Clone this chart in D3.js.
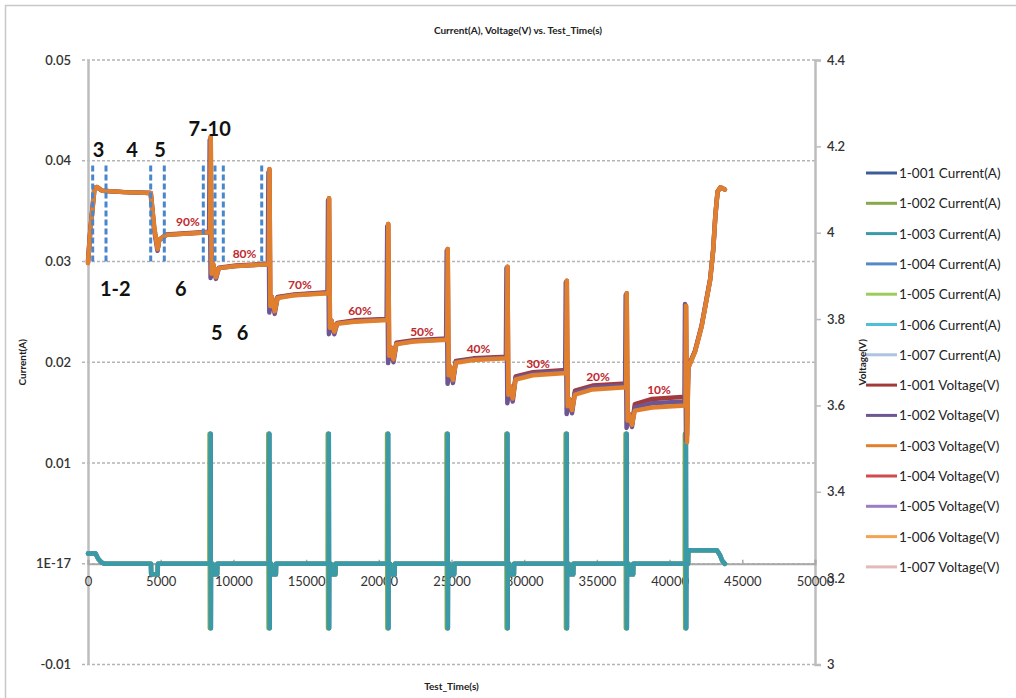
<!DOCTYPE html>
<html>
<head>
<meta charset="utf-8">
<script src="https://cdn.jsdelivr.net/npm/d3@7"></script>
<style>
  body { margin: 0; background: #fff; }
  text { font-family: Lato, "Liberation Sans", sans-serif; }
</style>
</head>
<body>
<div id="chart"></div>
<script>
// ---- data ----
const seriesNames = [
  '1-001 Current(A)', '1-002 Current(A)', '1-003 Current(A)', '1-004 Current(A)',
  '1-005 Current(A)', '1-006 Current(A)', '1-007 Current(A)',
  '1-001 Voltage(V)', '1-002 Voltage(V)', '1-003 Voltage(V)', '1-004 Voltage(V)',
  '1-005 Voltage(V)', '1-006 Voltage(V)', '1-007 Voltage(V)'
];
const seriesColors = [
  '#3b5e9b', '#86a94a', '#3a9aa8', '#5588c8', '#9dcb5c', '#4dbfd6', '#adc3e0',
  '#a33a3a', '#6e5594', '#e0802e', '#d24b4b', '#9b7dc4', '#f6a350', '#e3b9b9'
];

const xTicks = [0, 5000, 10000, 15000, 20000, 25000, 30000, 35000, 40000, 45000, 50000];
const currentTicks = [-0.01, 0, 0.01, 0.02, 0.03, 0.04, 0.05];
const currentTickLabels = ['-0.01', '1E-17', '0.01', '0.02', '0.03', '0.04', '0.05'];
const voltageTicks = [3, 3.2, 3.4, 3.6, 3.8, 4, 4.2, 4.4];
const voltageTickLabels = ['3', '3.2', '3.4', '3.6', '3.8', '4', '4.2', '4.4'];

// [Test_Time(s), Current(A)]
const current001 = [
  [0, 0.00102], [520, 0.00102], [700, 0.0005], [950, 0.0001], [1150, 0],
  [4330, 0], [4345, -0.00105], [4790, -0.00105], [4805, 0],
  [8420, 0], [8430, 0.0129], [8450, -0.0064], [8460, 0], [8560, 0], [8575, -0.00105], [8880, -0.00105], [8895, 0],
  [12460, 0], [12470, 0.0129], [12490, -0.0064], [12500, 0], [12600, 0], [12615, -0.00105], [12920, -0.00105], [12935, 0],
  [16550, 0], [16560, 0.0129], [16580, -0.0064], [16590, 0], [16690, 0], [16705, -0.00105], [17010, -0.00105], [17025, 0],
  [20630, 0], [20640, 0.0129], [20660, -0.0064], [20670, 0], [20770, 0], [20785, -0.00105], [21090, -0.00105], [21105, 0],
  [24720, 0], [24730, 0.0129], [24750, -0.0064], [24760, 0], [24860, 0], [24875, -0.00105], [25180, -0.00105], [25195, 0],
  [28830, 0], [28840, 0.0129], [28860, -0.0064], [28870, 0], [28970, 0], [28985, -0.00105], [29290, -0.00105], [29305, 0],
  [32910, 0], [32920, 0.0129], [32940, -0.0064], [32950, 0], [33050, 0], [33065, -0.00105], [33370, -0.00105], [33385, 0],
  [37030, 0], [37040, 0.0129], [37060, -0.0064], [37070, 0], [37170, 0], [37185, -0.00105], [37490, -0.00105], [37505, 0],
  [41110, 0], [41120, 0.0129], [41140, -0.0064], [41150, 0], [41270, 0], [41285, 0.00134], [43250, 0.00134],
  [43450, 0.0009], [43620, 0.0003], [43800, 0]
];
const current002 = [
  [0, 0.00102], [520, 0.00102], [700, 0.0005], [950, 0.0001], [1150, 0],
  [4330, 0], [4345, -0.00105], [4790, -0.00105], [4805, 0],
  [8350, 0], [8360, 0.0129], [8380, -0.0064], [8390, 0], [8560, 0], [8575, -0.00105], [8880, -0.00105], [8895, 0],
  [12390, 0], [12400, 0.0129], [12420, -0.0064], [12430, 0], [12600, 0], [12615, -0.00105], [12920, -0.00105], [12935, 0],
  [16480, 0], [16490, 0.0129], [16510, -0.0064], [16520, 0], [16690, 0], [16705, -0.00105], [17010, -0.00105], [17025, 0],
  [20560, 0], [20570, 0.0129], [20590, -0.0064], [20600, 0], [20770, 0], [20785, -0.00105], [21090, -0.00105], [21105, 0],
  [24650, 0], [24660, 0.0129], [24680, -0.0064], [24690, 0], [24860, 0], [24875, -0.00105], [25180, -0.00105], [25195, 0],
  [28760, 0], [28770, 0.0129], [28790, -0.0064], [28800, 0], [28970, 0], [28985, -0.00105], [29290, -0.00105], [29305, 0],
  [32840, 0], [32850, 0.0129], [32870, -0.0064], [32880, 0], [33050, 0], [33065, -0.00105], [33370, -0.00105], [33385, 0],
  [36960, 0], [36970, 0.0129], [36990, -0.0064], [37000, 0], [37170, 0], [37185, -0.00105], [37490, -0.00105], [37505, 0],
  [41040, 0], [41050, 0.0129], [41070, -0.0064], [41080, 0], [41270, 0], [41285, 0.00134], [43250, 0.00134],
  [43450, 0.0009], [43620, 0.0003], [43800, 0]
];
const current003 = [
  [0, 0.00102], [520, 0.00102], [700, 0.0005], [950, 0.0001], [1150, 0],
  [4330, 0], [4345, -0.00105], [4790, -0.00105], [4805, 0],
  [8420, 0], [8430, 0.0129], [8450, -0.0064], [8460, 0], [8560, 0], [8575, -0.00105], [8880, -0.00105], [8895, 0],
  [12460, 0], [12470, 0.0129], [12490, -0.0064], [12500, 0], [12600, 0], [12615, -0.00105], [12920, -0.00105], [12935, 0],
  [16550, 0], [16560, 0.0129], [16580, -0.0064], [16590, 0], [16690, 0], [16705, -0.00105], [17010, -0.00105], [17025, 0],
  [20630, 0], [20640, 0.0129], [20660, -0.0064], [20670, 0], [20770, 0], [20785, -0.00105], [21090, -0.00105], [21105, 0],
  [24720, 0], [24730, 0.0129], [24750, -0.0064], [24760, 0], [24860, 0], [24875, -0.00105], [25180, -0.00105], [25195, 0],
  [28830, 0], [28840, 0.0129], [28860, -0.0064], [28870, 0], [28970, 0], [28985, -0.00105], [29290, -0.00105], [29305, 0],
  [32910, 0], [32920, 0.0129], [32940, -0.0064], [32950, 0], [33050, 0], [33065, -0.00105], [33370, -0.00105], [33385, 0],
  [37030, 0], [37040, 0.0129], [37060, -0.0064], [37070, 0], [37170, 0], [37185, -0.00105], [37490, -0.00105], [37505, 0],
  [41110, 0], [41120, 0.0129], [41140, -0.0064], [41150, 0], [41270, 0], [41285, 0.00134], [43250, 0.00134],
  [43450, 0.0009], [43620, 0.0003], [43800, 0]
];

// [Test_Time(s), Voltage(V)]
const voltage001 = [
  [0, 3.930], [150, 4.000], [450, 4.103], [600, 4.106], [1000, 4.097], [2500, 4.094], [4320, 4.092],
  [4560, 4.010], [4790, 3.962], [4900, 3.984], [5400, 3.996], [8400, 4.002],
  [8440, 4.222], [8500, 3.905], [8600, 3.928], [8800, 3.897], [9000, 3.919], [10200, 3.924], [12440, 3.928],
  [12480, 4.147], [12540, 3.830], [12640, 3.852], [12840, 3.818], [13040, 3.851], [14200, 3.857], [16540, 3.862],
  [16580, 4.080], [16640, 3.780], [16740, 3.797], [16940, 3.771], [17140, 3.791], [18300, 3.797], [20610, 3.800],
  [20650, 4.020], [20710, 3.715], [20810, 3.735], [21010, 3.707], [21210, 3.745], [22400, 3.751], [24700, 3.755],
  [24740, 3.962], [24800, 3.670], [24900, 3.690], [25100, 3.659], [25300, 3.703], [26500, 3.709], [28810, 3.713],
  [28850, 3.921], [28910, 3.625], [29010, 3.645], [29210, 3.616], [29410, 3.667], [30600, 3.677], [32890, 3.682],
  [32930, 3.889], [32990, 3.598], [33090, 3.615], [33290, 3.589], [33490, 3.634], [34700, 3.646], [37010, 3.651],
  [37050, 3.860], [37110, 3.565], [37210, 3.580], [37410, 3.555], [37610, 3.603], [38800, 3.615], [41090, 3.620],
  [41130, 3.831], [41200, 3.530], [41290, 3.690], [41750, 3.727], [42200, 3.785], [42790, 3.893], [43000, 3.962],
  [43150, 4.042], [43300, 4.096], [43500, 4.105], [43800, 4.100]
];
const voltage002 = [
  [0, 3.935], [150, 4.003], [430, 4.103], [600, 4.105], [1000, 4.097], [2500, 4.094], [4300, 4.092],
  [4540, 4.008], [4780, 3.958], [4890, 3.982], [5400, 3.995], [8330, 4.001],
  [8370, 4.215], [8430, 3.895], [8600, 3.925], [8800, 3.893], [9000, 3.918], [10200, 3.923], [12370, 3.927],
  [12410, 4.140], [12470, 3.815], [12640, 3.850], [12840, 3.812], [13040, 3.850], [14200, 3.856], [16470, 3.861],
  [16510, 4.075], [16570, 3.765], [16740, 3.795], [16940, 3.765], [17140, 3.790], [18300, 3.795], [20540, 3.799],
  [20580, 4.015], [20640, 3.698], [20810, 3.733], [21010, 3.700], [21210, 3.743], [22400, 3.749], [24630, 3.753],
  [24670, 3.958], [24730, 3.650], [24900, 3.688], [25100, 3.652], [25300, 3.701], [26500, 3.707], [28740, 3.711],
  [28780, 3.918], [28840, 3.605], [29010, 3.643], [29210, 3.609], [29410, 3.664], [30600, 3.674], [32820, 3.679],
  [32860, 3.885], [32920, 3.580], [33090, 3.612], [33290, 3.582], [33490, 3.630], [34700, 3.642], [36940, 3.647],
  [36980, 3.856], [37040, 3.548], [37210, 3.577], [37410, 3.550], [37610, 3.596], [38800, 3.605], [41020, 3.609],
  [41060, 3.835], [41130, 3.520], [41290, 3.688], [41750, 3.725], [42200, 3.783], [42790, 3.891], [43000, 3.960],
  [43150, 4.040], [43300, 4.095], [43500, 4.105], [43800, 4.100]
];
const voltage003 = [
  [0, 3.930], [150, 4.000], [450, 4.103], [600, 4.106], [1000, 4.097], [2500, 4.094], [4320, 4.092],
  [4560, 4.010], [4790, 3.962], [4900, 3.984], [5400, 3.995], [8400, 4.001],
  [8440, 4.222], [8500, 3.905], [8600, 3.928], [8800, 3.897], [9000, 3.918], [10200, 3.923], [12440, 3.927],
  [12480, 4.147], [12540, 3.830], [12640, 3.852], [12840, 3.818], [13040, 3.849], [14200, 3.855], [16540, 3.860],
  [16580, 4.080], [16640, 3.780], [16740, 3.797], [16940, 3.771], [17140, 3.789], [18300, 3.794], [20610, 3.798],
  [20650, 4.020], [20710, 3.715], [20810, 3.735], [21010, 3.707], [21210, 3.742], [22400, 3.748], [24700, 3.752],
  [24740, 3.962], [24800, 3.670], [24900, 3.690], [25100, 3.659], [25300, 3.699], [26500, 3.705], [28810, 3.709],
  [28850, 3.921], [28910, 3.625], [29010, 3.645], [29210, 3.616], [29410, 3.660], [30600, 3.670], [32890, 3.675],
  [32930, 3.889], [32990, 3.598], [33090, 3.615], [33290, 3.589], [33490, 3.625], [34700, 3.637], [37010, 3.642],
  [37050, 3.860], [37110, 3.565], [37210, 3.580], [37410, 3.555], [37610, 3.588], [38800, 3.595], [41090, 3.600],
  [41130, 3.831], [41200, 3.515], [41290, 3.687], [41750, 3.724], [42200, 3.782], [42790, 3.890], [43000, 3.960],
  [43150, 4.040], [43300, 4.095], [43500, 4.105], [43800, 4.100]
];

// series index -> data (1-004 .. 1-007 carry no points in the picture)
const seriesData = [
  current001, current002, current003, [], [], [], [],
  voltage001, voltage002, voltage003, [], [], [], []
];

// step markers drawn by hand on the chart (time in s, current span in A)
const markerTimes = [323, 1238, 4312, 5248, 7930, 8735, 9306, 11947];
const markerSpan = [0.030, 0.0396];
const stepLabels = ['3', '4', '5', '7-10', '1-2', '6', '5', '6'];
const stepLabelTimes = [722, 3026, 4952, 8370, 1880, 6383, 8852, 10626];
const stepLabelCurrents = [0.0412, 0.0412, 0.0412, 0.0433, 0.0274, 0.0274, 0.0230, 0.0230];
const socLabels = ['90%', '80%', '70%', '60%', '50%', '40%', '30%', '20%', '10%'];
const socTimes = [6878, 10764, 14581, 18708, 22973, 26859, 30951, 35078, 39273];
const socVoltages = [4.025, 3.953, 3.879, 3.821, 3.771, 3.732, 3.698, 3.667, 3.638];

// ---- layout ----
const WIDTH = 1016;
const HEIGHT = 698;
const PLOT = {LEFT: 88, RIGHT: 815, TOP: 60, BOTTOM: 664.5};

const svg = d3.select('#chart')
  .append('svg')
    .attr('width', WIDTH)
    .attr('height', HEIGHT);

svg.append('rect')
  .attr('width', WIDTH).attr('height', HEIGHT)
  .attr('fill', '#fff');

// outer chart frame
svg.append('rect')
  .attr('x', 5.5).attr('y', 5.5)
  .attr('width', 1100).attr('height', 1000)
  .attr('fill', 'none')
  .attr('stroke', '#c8c8c8')
  .attr('stroke-width', 1.5);

const x = d3.scaleLinear().domain([0, 50000]).range([PLOT.LEFT, PLOT.RIGHT]);
const yI = d3.scaleLinear().domain([-0.01, 0.05]).range([PLOT.BOTTOM, PLOT.TOP]);
const yV = d3.scaleLinear().domain([3, 4.4]).range([PLOT.BOTTOM, PLOT.TOP]);

// gridlines (left axis)
svg.append('g')
  .selectAll('line')
  .data(currentTicks)
  .enter().append('line')
    .attr('x1', PLOT.LEFT - 6)
    .attr('x2', PLOT.RIGHT)
    .attr('y1', d => yI(d))
    .attr('y2', d => yI(d))
    .attr('stroke', '#b4b4b4')
    .attr('stroke-width', 1.4)
    .attr('stroke-dasharray', '3,2');

// left axis
const leftAxis = svg.append('g')
  .attr('transform', `translate(${PLOT.LEFT},0)`)
  .call(d3.axisLeft(yI)
    .tickValues(currentTicks)
    .tickFormat((d, i) => currentTickLabels[i])
    .tickSize(0)
    .tickPadding(17));
leftAxis.select('.domain').attr('stroke', '#bdbdbd').attr('stroke-width', 2.5);
leftAxis.selectAll('text')
  .attr('font-size', 13).attr('font-weight', 600).attr('fill', '#333');

// right axis
const rightAxis = svg.append('g')
  .attr('transform', `translate(${PLOT.RIGHT},0)`)
  .call(d3.axisRight(yV)
    .tickValues(voltageTicks)
    .tickFormat((d, i) => voltageTickLabels[i])
    .tickSize(6)
    .tickPadding(6));
rightAxis.select('.domain').attr('stroke', '#bdbdbd').attr('stroke-width', 2.5);
rightAxis.selectAll('line').attr('stroke', '#bdbdbd').attr('stroke-width', 1.5);
rightAxis.selectAll('text')
  .attr('font-size', 13).attr('font-weight', 600).attr('fill', '#333');

// x axis at current = 0
const xAxis = svg.append('g')
  .attr('transform', `translate(0,${yI(0)})`)
  .call(d3.axisBottom(x)
    .tickValues(xTicks)
    .tickFormat(d3.format('d'))
    .tickSize(-4)
    .tickPadding(13));
xAxis.select('.domain').attr('stroke', '#a9a9a9').attr('stroke-width', 2);
xAxis.selectAll('line').attr('stroke', '#a9a9a9').attr('stroke-width', 1.5);
xAxis.selectAll('text')
  .attr('font-size', 13).attr('fill', '#333');

// series lines: current on the left scale, voltage on the right scale
const currentLine = d3.line().x(d => x(d[0])).y(d => yI(d[1]));
const voltageLine = d3.line().x(d => x(d[0])).y(d => yV(d[1]));

svg.append('g')
  .selectAll('path')
  .data(seriesData.map((d, i) => ({d, i})).filter(s => s.d.length))
  .enter().append('path')
    .attr('d', s => s.i < 7 ? currentLine(s.d) : voltageLine(s.d))
    .attr('fill', 'none')
    .attr('stroke', s => seriesColors[s.i])
    .attr('stroke-width', 4.5)
    .attr('stroke-linejoin', 'round')
    .attr('stroke-linecap', 'round');

// dashed blue step markers
svg.append('g')
  .selectAll('line')
  .data(markerTimes)
  .enter().append('line')
    .attr('x1', d => x(d))
    .attr('x2', d => x(d))
    .attr('y1', yI(markerSpan[0]))
    .attr('y2', yI(markerSpan[1]))
    .attr('stroke', '#4a86cc')
    .attr('stroke-width', 3)
    .attr('stroke-dasharray', '6,3');

// step number annotations
svg.append('g')
  .selectAll('text')
  .data(stepLabels)
  .enter().append('text')
    .attr('x', (d, i) => x(stepLabelTimes[i]))
    .attr('y', (d, i) => yI(stepLabelCurrents[i]))
    .attr('text-anchor', 'middle')
    .attr('dominant-baseline', 'central')
    .attr('font-size', 20)
    .attr('font-weight', 'bold')
    .attr('fill', '#111')
    .text(d => d);

// SOC labels
svg.append('g')
  .selectAll('text')
  .data(socLabels)
  .enter().append('text')
    .attr('x', (d, i) => x(socTimes[i]))
    .attr('y', (d, i) => yV(socVoltages[i]))
    .attr('text-anchor', 'middle')
    .attr('dominant-baseline', 'central')
    .attr('font-size', 12)
    .attr('font-weight', 'bold')
    .attr('fill', '#c0282e')
    .text(d => d);

// titles
svg.append('text')
  .attr('x', 518).attr('y', 30)
  .attr('text-anchor', 'middle')
  .attr('dominant-baseline', 'central')
  .attr('font-size', 10).attr('font-weight', 'bold').attr('fill', '#222')
  .text('Current(A), Voltage(V) vs. Test_Time(s)');

svg.append('text')
  .attr('x', (PLOT.LEFT + PLOT.RIGHT) / 2).attr('y', 686)
  .attr('text-anchor', 'middle')
  .attr('dominant-baseline', 'central')
  .attr('font-size', 10).attr('font-weight', 'bold').attr('fill', '#222')
  .text('Test_Time(s)');

svg.append('text')
  .attr('transform', `translate(22,${(PLOT.TOP + PLOT.BOTTOM) / 2}) rotate(-90)`)
  .attr('text-anchor', 'middle')
  .attr('dominant-baseline', 'central')
  .attr('font-size', 10).attr('font-weight', 'bold').attr('fill', '#222')
  .text('Current(A)');

// legend
const legend = svg.append('g')
  .attr('transform', 'translate(866,173)');

const items = legend.selectAll('g')
  .data(seriesNames)
  .enter().append('g')
    .attr('transform', (d, i) => `translate(0,${i * 30.3})`);

items.append('line')
  .attr('x1', 0).attr('x2', 31)
  .attr('stroke', (d, i) => seriesColors[i])
  .attr('stroke-width', 3);

items.append('text')
  .attr('x', 33)
  .attr('dominant-baseline', 'central')
  .attr('font-size', 13.5)
  .attr('fill', '#222')
  .text(d => d);

// right axis title sits over the legend, as in the original
svg.append('text')
  .attr('transform', `translate(862,${(PLOT.TOP + PLOT.BOTTOM) / 2}) rotate(-90)`)
  .attr('text-anchor', 'middle')
  .attr('dominant-baseline', 'central')
  .attr('font-size', 10).attr('font-weight', 'bold').attr('fill', '#222')
  .text('Voltage(V)');
</script>
</body>
</html>
